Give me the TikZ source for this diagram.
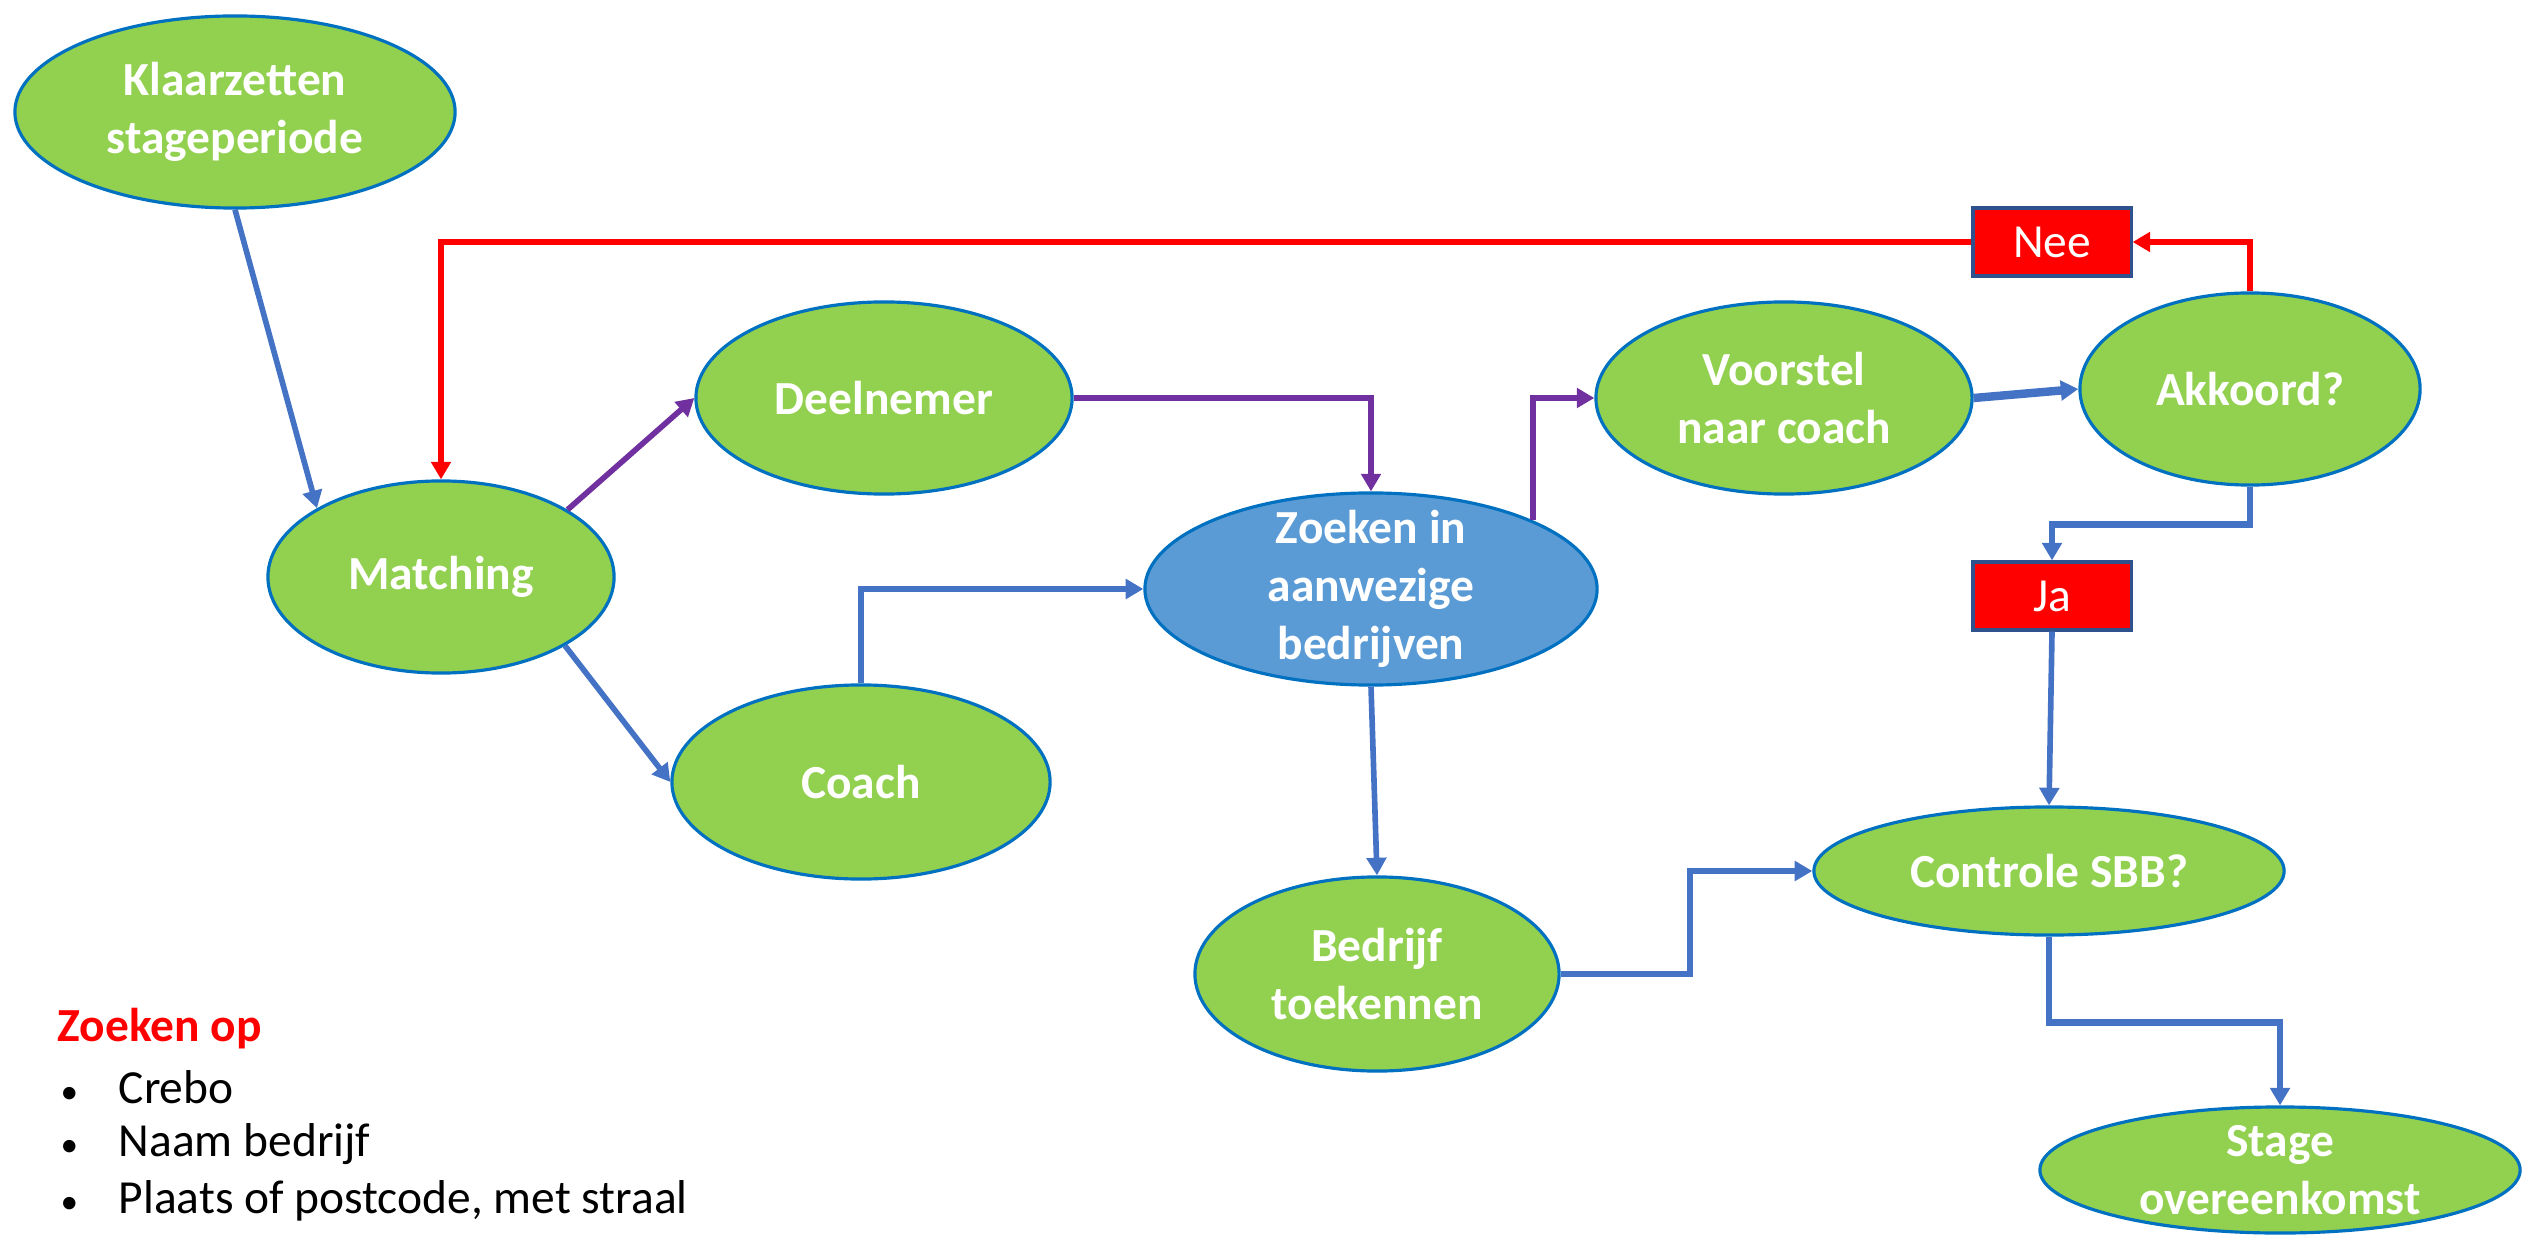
\documentclass[tikz,border=0pt]{standalone}
\usepackage{fontspec}
\setmainfont{Carlito}
\usetikzlibrary{shapes.geometric,arrows.meta}
\definecolor{stapgroen}{RGB}{146,208,80}
\definecolor{zoekblauw}{RGB}{91,155,213}
\definecolor{randblauw}{RGB}{0,112,192}
\definecolor{lijnblauw}{RGB}{68,114,196}
\definecolor{paars}{RGB}{112,48,160}
\definecolor{kaderblauw}{RGB}{47,82,143}

\begin{document}
\begin{tikzpicture}[x=0.01cm,y=-0.01cm,
    stap/.style={ellipse,draw=randblauw,line width=0.9pt,fill=stapgroen,text=white,
      font=\bfseries\fontsize{13.5}{16.5}\selectfont,align=center,
      inner xsep=0pt,inner ysep=-6pt,minimum width=3.76cm,minimum height=1.92cm},
    keuze/.style={rectangle,draw=kaderblauw,line width=0.9pt,fill=red,text=white,
      font=\fontsize{13.5}{15}\selectfont,minimum width=1.58cm,minimum height=0.68cm},
    pijl/.style={-{Triangle[width=5.5pt,length=5pt]},line width=1.6pt,draw=lijnblauw},
    dikpijl/.style={pijl,line width=2.4pt},
    paarspijl/.style={pijl,draw=paars},
    roodpijl/.style={pijl,draw=red,line width=1.5pt},
    lijst/.style={anchor=west,inner sep=0pt,font=\fontsize{13.5}{16.5}\selectfont}]
  \useasboundingbox (0,0) rectangle (2534,1240);
  \node[stap,minimum width=4.4cm] (klaar) at (235,112) {Klaarzetten\\stageperiode};
  \node[stap,minimum width=3.46cm] (match) at (441,577) {Matching};
  \node[stap] (deel) at (884,398) {Deelnemer};
  \node[stap,minimum width=3.78cm,minimum height=1.94cm] (coach) at (861,782) {Coach};
  \node[stap,fill=zoekblauw,minimum width=4.52cm] (zoek) at (1371,589) {Zoeken in\\aanwezige\\bedrijven};
  \node[stap] (voor) at (1784,398) {Voorstel\\naar coach};
  \node[stap,minimum width=3.4cm] (akk) at (2250,389) {Akkoord?};
  \node[keuze] (nee) at (2052,242) {Nee};
  \node[keuze] (ja) at (2052,596) {Ja};
  \node[stap,minimum width=4.7cm,minimum height=1.28cm] (ctrl) at (2049,871) {Controle SBB?};
  \node[stap,minimum width=3.64cm,minimum height=1.94cm] (bedr) at (1377,974) {Bedrijf\\toekennen};
  \node[stap,minimum width=4.8cm,minimum height=1.26cm] (stage) at (2280,1170) {Stage\\overeenkomst};

  \draw[pijl] (klaar.south) -- (match.151);
  \draw[paarspijl] (match.28) -- (deel.west);
  \draw[pijl] (match.-29) -- (coach.west);
  \draw[paarspijl] (deel.east) -| (zoek.north);
  \draw[pijl] (coach.north) |- (zoek.west);
  \draw[paarspijl] (zoek.23) |- (voor.west);
  \draw[dikpijl] (voor.east) -- (akk.west);
  \draw[roodpijl] (akk.north) |- (nee.east);
  \draw[roodpijl] (nee.west) -| (match.north);
  \draw[pijl,line width=1.8pt] (akk.south) -- +(0,38) -| (ja.north);
  \draw[pijl] (ja.south) -- (ctrl.north);
  \draw[pijl] (zoek.south) -- (bedr.north);
  \draw[pijl,line width=1.8pt] (bedr.east) -- +(129,0) |- (ctrl.west);
  \draw[pijl,line width=1.8pt] (ctrl.south) -- +(0,86) -| (stage.north);

  \node[lijst,text=red,font=\bfseries\fontsize{13.5}{16.5}\selectfont] (zoekop) at (57,1029) {Zoeken op};
  \foreach \t [count=\i] in {Crebo,Naam bedrijf,{Plaats of postcode, met straal}}
    \node[lijst] (punt\i) at (60,1030+57*\i) {\makebox[0.58cm][l]{\fontsize{10}{10}\selectfont\textbullet}\t};
\end{tikzpicture}
\end{document}
